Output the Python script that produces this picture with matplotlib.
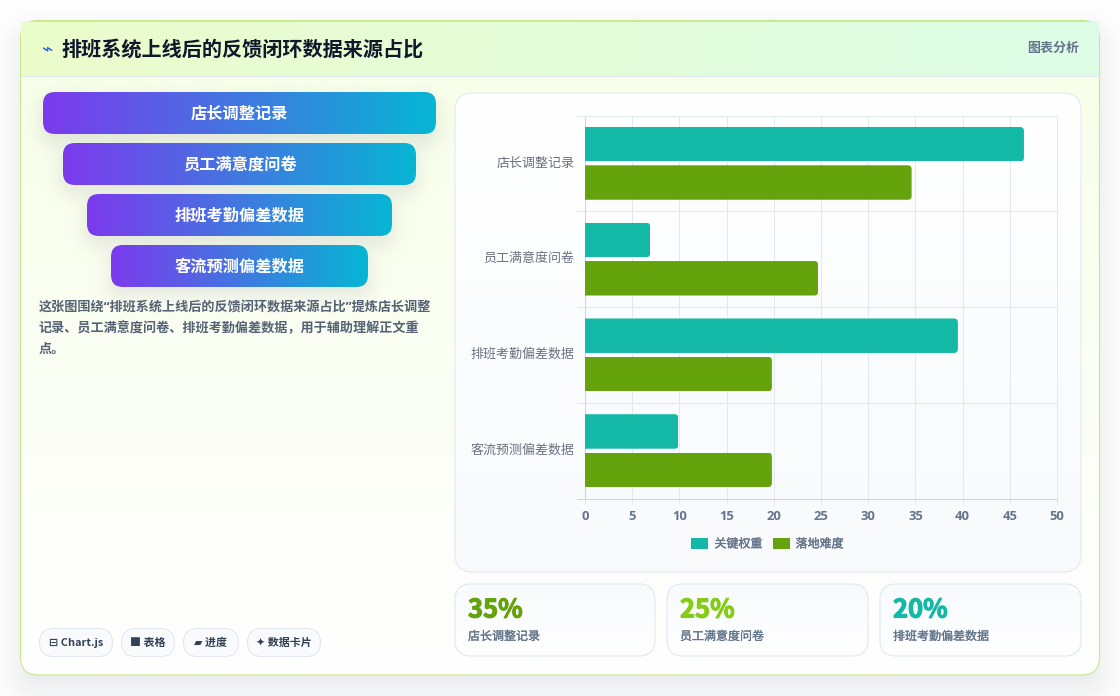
#!/usr/bin/env python

# Feedback-loop data source dashboard card: funnel pills on the left,
# grouped horizontal bars and stat cards on the right.

import numpy as np
import matplotlib
matplotlib.use('Agg')
import matplotlib.pyplot as plt
import matplotlib.patheffects as pe
from matplotlib.colors import to_rgb
from matplotlib.patches import FancyBboxPatch, Rectangle
from matplotlib.transforms import ScaledTranslation

W, H = 1120, 696
CJK = ['Noto Sans CJK SC', 'DejaVu Sans']
plt.rcParams['font.family'] = CJK

title = '排班系统上线后的反馈闭环数据来源占比'
title_icon = '⌁'
header_tag = '图表分析'
categories = ['店长调整记录', '员工满意度问卷', '排班考勤偏差数据', '客流预测偏差数据']
key_weight = [46.5, 6.9, 39.5, 9.9]
difficulty = [34.6, 24.7, 19.8, 19.8]
series_names = ['关键权重', '落地难度']
x_ticks = [0, 5, 10, 15, 20, 25, 30, 35, 40, 45, 50]
para_lines = ['这张图围绕“排班系统上线后的反馈闭环数据来源占比”提炼店长调整',
              '记录、员工满意度问卷、排班考勤偏差数据，用于辅助理解正文重',
              '点。']
chips = ['⊟ Chart.js', '■ 表格', '▰ 进度', '✦ 数据卡片']
stat_values = [35, 25, 20]
stat_labels = ['店长调整记录', '员工满意度问卷', '排班考勤偏差数据']

TEAL = '#14b8a6'
GREEN = '#65a30d'
LIME = '#84cc16'
SLATE = '#64748b'
LW = 0.72   # one pixel


def px(size):
    return size * 0.72


def thicken(w, colour):
    # Medium weight does not exist in the CJK face, so fatten the regular one
    return [pe.withStroke(linewidth=w, foreground=colour)]


fig = plt.figure(figsize=(W / 100, H / 100), dpi=100, facecolor='white')

# Full-figure axes in pixel units for the card furniture
bg = fig.add_axes([0, 0, 1, 1], zorder=0)
bg.set_xlim(0, W)
bg.set_ylim(H, 0)
bg.set_axis_off()


def rbox(x0, y0, x1, y1, r, **kw):
    p = FancyBboxPatch((x0, y0), x1 - x0, y1 - y0,
                       boxstyle='round,pad=0,rounding_size=%g' % r, **kw)
    bg.add_patch(p)
    return p


def shadow(x0, y0, x1, y1, r, blur, alpha, dy, colour='#0f172a', z=1):
    # Soft box shadow from a rounded-rectangle distance field
    m = int(blur * 2.5)
    xs = np.arange(x0 - m, x1 + m) + 0.5
    ys = np.arange(y0 + dy - m, y1 + dy + m) + 0.5
    gx, gy = np.meshgrid(xs, ys)
    cx, cy = (x0 + x1) / 2, (y0 + y1) / 2 + dy
    qx = np.abs(gx - cx) - (x1 - x0) / 2 + r
    qy = np.abs(gy - cy) - (y1 - y0) / 2 + r
    d = np.hypot(np.maximum(qx, 0), np.maximum(qy, 0)) + \
        np.minimum(np.maximum(qx, qy), 0) - r
    a = alpha / (1 + np.exp(np.clip(d / (blur * 0.3), -30, 30)))
    img = np.zeros(a.shape + (4,))
    img[..., :3] = to_rgb(colour)
    img[..., 3] = a
    bg.imshow(img, extent=(xs[0] - .5, xs[-1] + .5, ys[-1] + .5, ys[0] - .5),
              aspect='auto', zorder=z, interpolation='bilinear')


def gradient(x0, y0, x1, y1, c0, c1, clip=None, angle=0, z=2):
    # Two-colour linear fill; angle 0 runs left to right, 90 top to bottom
    nx, ny = max(int(x1 - x0), 2), max(int(y1 - y0), 2)
    gx, gy = np.meshgrid(np.linspace(0, 1, nx), np.linspace(0, 1, ny))
    c, s = np.cos(np.radians(angle)), np.sin(np.radians(angle))
    sx, sy = (x1 - x0) * c, (y1 - y0) * s
    t = (gx * sx + gy * sy) / (sx + sy)
    a, b = np.array(to_rgb(c0)), np.array(to_rgb(c1))
    img = a + (b - a) * t[..., None]
    im = bg.imshow(img, extent=(x0, x1, y1, y0), aspect='auto', zorder=z,
                   interpolation='bilinear')
    if clip is not None:
        im.set_clip_path(clip)
    return im


# Main card
shadow(20, 20, 1100, 675, 18, 40, 0.11, 14)
card = rbox(20, 20, 1100, 675, 18, fc='none', ec='none', zorder=2)
gradient(20, 20, 1100, 675, '#f7fee7', '#ffffff', clip=card, angle=90)
rbox(20.5, 20.5, 1099.5, 675, 18, fc='none', ec='#c9ea8c', lw=LW * 1.2, zorder=3)

# Header band
head = Rectangle((21, 21), 1078, 55, fc='none', ec='none', zorder=4)
bg.add_patch(head)
gradient(21, 21, 1099, 76, '#ecfccb', '#dcfce7', clip=head, angle=20, z=4)
bg.plot([21, 1099], [76, 76], color='#e2e8f0', lw=LW, zorder=5)
bg.plot([30, 1090], [21, 21], color='#c9ea8c', lw=LW, zorder=5)
bg.text(47.5, 50, title_icon, fontsize=px(19), color='#2563eb', ha='center',
        va='center', family=['DejaVu Sans'], zorder=6)
bg.text(61.5, 49.5, title, fontsize=px(20.1), color='#0f172a', weight='bold',
        va='center', zorder=6)
bg.text(1079, 48, header_tag, fontsize=px(13), color=SLATE, weight='bold',
        ha='right', va='center', zorder=6)

# Funnel pills
pills = [(43, 436, 92), (63, 416, 143), (87, 392, 194), (111, 368, 245)]
for (x0, x1, y0), name in zip(pills, categories):
    shadow(x0, y0, x1, y0 + 42, 12, 20, 0.10, 8, z=3)
for (x0, x1, y0), name in zip(pills, categories):
    p = rbox(x0, y0, x1, y0 + 42, 12, fc='none', ec='none', zorder=4)
    gradient(x0, y0, x1, y0 + 42, '#7c3aed', '#06b6d4', clip=p, z=4)
    bg.text((x0 + x1) / 2, y0 + 21.7, name, fontsize=px(16.2), color='white',
            weight='bold', ha='center', va='center', zorder=6)

# Latin-face quotes keep the line as narrow as it should be
for i, line in enumerate(para_lines):
    bg.text(39, 312 + i * 20.5, line, fontsize=px(13.1), color='#475569',
            weight='bold', va='baseline', zorder=6, alpha=0.92,
            family=['Open Sans', 'Noto Sans CJK SC'])

# Tool chips
chip_boxes = [(39, 113), (121, 175), (183, 239), (247, 321)]
for (x0, x1), label in zip(chip_boxes, chips):
    rbox(x0 + .5, 628.5, x1 - .5, 656.5, 14, fc='#f8fafc', ec='#e2e8f0',
         lw=LW, zorder=4)
    bg.text((x0 + x1) / 2, 643, label, fontsize=px(11), color='#334155',
            weight='bold', ha='center', va='center', zorder=6)

# Chart panel
panel = rbox(455, 93, 1081, 572, 18, fc='none', ec='none', zorder=4)
gradient(455, 93, 1081, 572, '#ffffff', '#f8fafc', clip=panel, angle=90, z=4)
rbox(455, 93, 1081, 572, 18, fc='none', ec='#e2e8f0', lw=LW, zorder=5)

# Stat cards
stat_boxes = [(455, 655), (667, 868), (880, 1081)]
stat_colours = [GREEN, LIME, TEAL]
for (x0, x1), v, label, col in zip(stat_boxes, stat_values, stat_labels,
                                   stat_colours):
    p = rbox(x0, 584, x1, 656, 16, fc='none', ec='none', zorder=4)
    gradient(x0, 584, x1, 656, '#f8fafc', '#ffffff', clip=p, angle=90, z=4)
    rbox(x0, 584, x1, 656, 16, fc='none', ec='#dbe7f3', lw=LW, zorder=5)
    bg.text(x0 + 13, 610, '%d%%' % v, fontsize=px(25.5), color=col, weight='bold',
            va='center', zorder=6, path_effects=thicken(0.8, col))
    bg.text(x0 + 13, 636.5, label, fontsize=px(12), color=SLATE,
            va='center', zorder=6, path_effects=thicken(0.2, SLATE))

# Bars
ax_l, ax_r, ax_t, ax_b = 585.0, 1057.0, 115.5, 498.5
ax = fig.add_axes([ax_l / W, 1 - ax_b / H, (ax_r - ax_l) / W, (ax_b - ax_t) / H],
                  zorder=2)
ax.patch.set_visible(False)
ypos = np.arange(len(categories))
bars_a = ax.barh(ypos - 0.2, key_weight, height=0.36, color=TEAL, zorder=3,
                 label=series_names[0])
bars_b = ax.barh(ypos + 0.2, difficulty, height=0.36, color=GREEN, zorder=3,
                 label=series_names[1])
ax.set_xlim(0, 50)
ax.set_ylim(3.5, -0.5)

# Round the free end of each bar with a clip outline
ux = 50 / (ax_r - ax_l)
uy = 4 / (ax_b - ax_t)
for bar in list(bars_a) + list(bars_b):
    r = 4 * ux
    clip = FancyBboxPatch((-2 * r, bar.get_y()), bar.get_width() + 2 * r,
                          bar.get_height(),
                          boxstyle='round,pad=0,rounding_size=%g' % r,
                          mutation_aspect=uy / ux, transform=ax.transData)
    bar.set_clip_path(clip)

ax.set_xticks(x_ticks)
ax.set_xticklabels([str(t) for t in x_ticks], fontsize=px(13), color=SLATE,
                   family='Open Sans', weight='bold')
ax.set_yticks(ypos)
ax.set_yticklabels(categories, fontsize=px(13), color='#6b7280')
ax.set_yticks(np.arange(0.5, 3.5), minor=True)
ax.tick_params(axis='x', length=px(5), color='#e2e8f0', width=LW, pad=px(6.5))
ax.tick_params(axis='y', which='major', length=0, pad=px(10.5))
ax.tick_params(axis='y', which='minor', length=px(8), color='#e2e8f0', width=LW)
ax.grid(True, axis='x', color='#e2e8f0', lw=LW, zorder=1)
ax.grid(True, axis='y', which='minor', color='#e2e8f0', lw=LW, zorder=1)
ax.set_axisbelow(True)
for side in ('top', 'right'):
    ax.spines[side].set_color('#e2e8f0')
    ax.spines[side].set_linewidth(LW)
ax.spines['left'].set_color('#cbd5e1')
ax.spines['left'].set_linewidth(LW)
ax.spines['bottom'].set_color('#cbd5e1')
ax.spines['bottom'].set_linewidth(LW)
nudge = ScaledTranslation(0, 2 / 100, fig.dpi_scale_trans)
for lab in ax.get_yticklabels():
    lab.set_transform(lab.get_transform() + nudge)
# The baseline runs a little past the y axis, like the band lines do
bg.plot([577, 586], [498.5, 498.5], color='#cbd5e1', lw=LW, zorder=6)
bg.plot([577, 586], [115.5, 115.5], color='#e2e8f0', lw=LW, zorder=6)

leg = ax.legend(loc='center', bbox_to_anchor=(767.5 / W, 1 - 544 / H),
                bbox_transform=fig.transFigure, ncol=2, frameon=False,
                prop={'family': CJK, 'size': px(12)},
                labelcolor=SLATE, handlelength=17 / 12, handleheight=12 / 12,
                handletextpad=0.5, columnspacing=0.85, borderpad=0)
for t in leg.get_texts():
    t.set_path_effects(thicken(0.25, SLATE))

bg.set_xlim(0, W)
bg.set_ylim(H, 0)
fig.savefig('out.png', dpi=100, facecolor='white')
